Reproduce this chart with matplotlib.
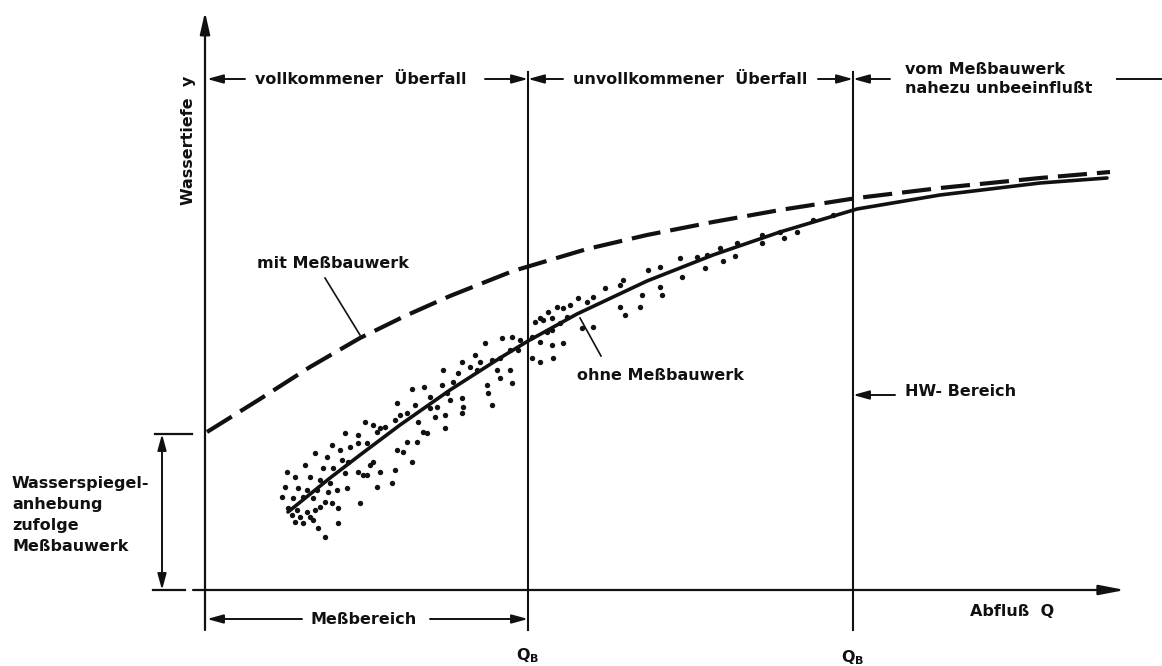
import matplotlib
matplotlib.use("Agg")
import matplotlib.pyplot as plt

# Schematic stage-discharge diagram (arbitrary units, origin at axis corner)
q_b1 = 323
q_b2 = 648

# curve "mit Meßbauwerk" (dashed)
mit_q = [2, 55, 105, 155, 200, 245, 308, 382, 442, 508, 575, 652, 735, 835, 905]
mit_y = [158, 191, 223, 252, 274, 294, 319, 341, 355, 368, 380, 392, 402, 412, 418]

# curve "ohne Meßbauwerk" (solid)
ohne_q = [83, 125, 155, 195, 245, 295, 323, 372, 442, 508, 575, 652, 735, 835, 902]
ohne_y = [78, 112, 135, 165, 200, 232, 249, 276, 309, 335, 358, 381, 395, 407, 412]

# measured points
pts_q = [207, 219, 237, 242, 192, 210, 225, 232, 240, 230, 202, 195, 190, 213, 218, 222,
         240, 212, 202, 192, 198, 207, 190, 187, 172, 175, 162, 165, 168, 160, 168, 175,
         180, 140, 153, 172, 153, 162, 127, 135, 145, 110, 122, 137, 143, 100, 118, 128,
         140, 153, 158, 90, 105, 115, 125, 142, 80, 93, 102, 112, 123, 132, 77, 88,
         98, 108, 120, 127, 155, 83, 92, 102, 110, 115, 133, 87, 95, 105, 90, 98,
         108, 133, 113, 120, 82,
         373, 382, 388, 365, 358, 352, 343, 335, 330, 338, 347, 362, 355, 377, 388, 342,
         347, 358, 347, 335, 327, 348, 335, 327, 315, 307, 297, 305, 313, 295, 287, 275,
         270, 280, 292, 305, 307, 295, 282, 283, 287, 272, 265, 257, 253, 248, 238, 225,
         245, 257, 258, 257,
         400, 415, 418, 443, 455, 475, 492, 502, 515, 532, 557, 575, 592, 415, 420, 435,
         437, 455, 457, 477, 500, 518, 530, 557, 579, 608, 628]
pts_y = [201, 203, 205, 197, 187, 185, 182, 183, 175, 173, 177, 175, 170, 168, 158, 157,
         162, 148, 148, 140, 138, 128, 120, 107, 103, 118, 115, 125, 128, 168, 165, 162,
         163, 157, 155, 158, 147, 147, 145, 140, 143, 137, 133, 130, 128, 125, 122, 122,
         117, 118, 115, 113, 113, 110, 107, 102, 103, 102, 100, 100, 98, 100, 93, 92,
         93, 92, 88, 87, 87, 82, 80, 78, 80, 83, 82, 75, 73, 73, 68, 67,
         70, 67, 62, 53, 118,
         292, 288, 293, 285, 282, 283, 278, 272, 268, 270, 272, 273, 267, 262, 263, 258,
         260, 247, 245, 248, 253, 232, 228, 232, 250, 253, 252, 240, 240, 232, 230, 228,
         235, 247, 220, 220, 207, 212, 205, 197, 185, 220, 223, 228, 217, 208, 220, 193,
         190, 192, 183, 177,
         302, 305, 310, 320, 323, 332, 333, 335, 342, 347, 355, 358, 358, 283, 275, 283,
         295, 303, 295, 313, 322, 329, 334, 347, 352, 370, 375]

ink = "#111111"
font = dict(family="DejaVu Sans", weight="bold", size=11.5, color=ink)

fig = plt.figure(figsize=(11.62, 6.66), dpi=100)
ax = fig.add_axes([0, 0, 1, 1])
ax.set_xlim(-205, 957)
ax.set_ylim(-76, 590)
ax.axis("off")


def arrow(x0, y0, x1, y1, lw=1.4, hl=0.8, hw=0.22):
    ax.annotate("", xy=(x1, y1), xytext=(x0, y0),
                arrowprops=dict(arrowstyle="-|>,head_length=%s,head_width=%s" % (hl, hw),
                                lw=lw, color=ink, shrinkA=0, shrinkB=0,
                                mutation_scale=12))


# axes
arrow(0, -40, 0, 578, lw=1.6, hl=1.1, hw=0.25)
arrow(-12, 0, 920, 0, lw=1.6, hl=1.3, hw=0.25)
for qb in (q_b1, q_b2):
    ax.plot([qb, qb], [-40, 518], color=ink, lw=1.5)

# curves and points
ax.plot(mit_q, mit_y, color=ink, lw=3.0, dashes=(7, 2.4))
ax.plot(ohne_q, ohne_y, color=ink, lw=2.6, solid_capstyle="round")
ax.scatter(pts_q, pts_y, s=15, color=ink, linewidths=0)

# top row of ranges
row = 511
arrow(40, row, 2, row)
ax.text(50, row, "vollkommener  Überfall", va="center", ha="left", **font)
arrow(280, row, q_b1, row)
arrow(358, row, q_b1, row)
ax.text(368, row, "unvollkommener  Überfall", va="center", ha="left", **font)
arrow(613, row, q_b2, row)
arrow(685, row, q_b2, row)
ax.text(700, row, "vom Meßbauwerk\nnahezu unbeeinflußt", va="center", ha="left",
        linespacing=1.3, **font)
ax.plot([912, 957], [row, row], color=ink, lw=1.4)

# axis titles
ax.text(-16, 450, "Wassertiefe  y", rotation=90, va="center", ha="center", **font)
ax.text(765, -21, "Abfluß  Q", va="center", ha="left", **font)

# curve labels with leader lines
ax.text(52, 327, "mit Meßbauwerk", va="center", ha="left", **font)
ax.plot([120, 155], [312, 255], color=ink, lw=1.2)
ax.text(372, 215, "ohne Meßbauwerk", va="center", ha="left", **font)
ax.plot([375, 396], [272, 234], color=ink, lw=1.2)

# HW range
arrow(690, 195, q_b2, 195)
ax.text(700, 198, "HW- Bereich", va="center", ha="left", **font)

# water level rise bracket
ax.plot([-50, -13], [156, 156], color=ink, lw=1.6)
ax.plot([-52, -20], [0, 0], color=ink, lw=1.6)
arrow(-43, 78, -43, 156)
arrow(-43, 78, -43, 0)
ax.text(-193, 75, "Wasserspiegel-\nanhebung\nzufolge\nMeßbauwerk", va="center", ha="left",
        linespacing=1.5, **font)

# measuring range
arrow(97, -29, 2, -29)
ax.text(105, -29, "Meßbereich", va="center", ha="left", **font)
arrow(225, -29, q_b1, -29)
ax.text(q_b1, -66, r"$\mathbf{Q_B}$", va="center", ha="center", **font)
ax.text(q_b2, -68, r"$\mathbf{Q_B}$", va="center", ha="center", **font)

fig.savefig("out.png", dpi=100, facecolor="white")
